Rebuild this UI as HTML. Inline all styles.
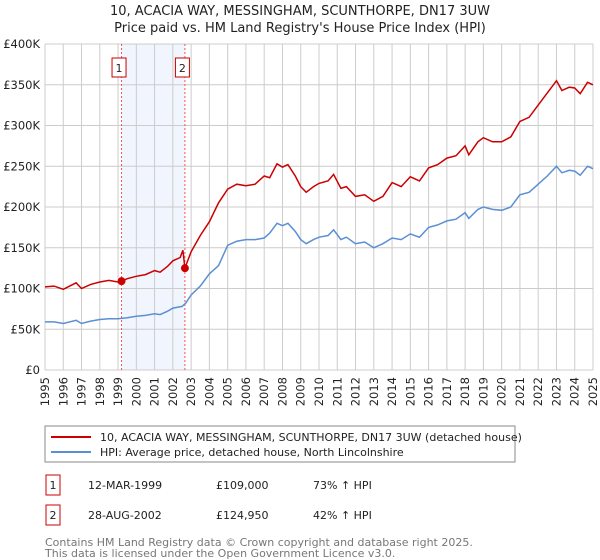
<!DOCTYPE html>
<html><head><meta charset="utf-8"><style>
body{margin:0;background:#fff;font-family:"Liberation Sans","DejaVu Sans",sans-serif;}
svg{display:block}
</style></head><body>
<svg width="600" height="560" xmlns="http://www.w3.org/2000/svg" font-family="DejaVu Sans, Liberation Sans, sans-serif">
<text x="300" y="15" text-anchor="middle" font-size="13" fill="#222">10, ACACIA WAY, MESSINGHAM, SCUNTHORPE, DN17 3UW</text>
<text x="300" y="32" text-anchor="middle" font-size="13" fill="#222">Price paid vs. HM Land Registry's House Price Index (HPI)</text>
<g id="grid"></g>
<g id="marks"></g>
<g id="legend">
<rect x="45" y="426" width="470" height="36" fill="#fff" stroke="#888"/>
<line x1="51" y1="437" x2="91" y2="437" stroke="#cc0000" stroke-width="2"/>
<text x="100" y="441" font-size="11" fill="#222">10, ACACIA WAY, MESSINGHAM, SCUNTHORPE, DN17 3UW (detached house)</text>
<line x1="51" y1="452" x2="91" y2="452" stroke="#5b8fd4" stroke-width="2"/>
<text x="100" y="456" font-size="11" fill="#222">HPI: Average price, detached house, North Lincolnshire</text>
</g>
<g font-size="11" fill="#222">
<rect x="46" y="475" width="14" height="20" fill="#fff" stroke="#cc0000"/>
<text x="53" y="489" text-anchor="middle">1</text>
<text x="88" y="489">12-MAR-1999</text>
<text x="216" y="489">£109,000</text>
<text x="313" y="489">73% ↑ HPI</text>
<rect x="46" y="505" width="14" height="20" fill="#fff" stroke="#cc0000"/>
<text x="53" y="519" text-anchor="middle">2</text>
<text x="88" y="519">28-AUG-2002</text>
<text x="216" y="519">£124,950</text>
<text x="313" y="519">42% ↑ HPI</text>
</g>
<text x="45" y="546" font-size="11" fill="#777">Contains HM Land Registry data © Crown copyright and database right 2025.</text>
<text x="45" y="557" font-size="11" fill="#777">This data is licensed under the Open Government Licence v3.0.</text>
</svg>
<script>
const yTickValues=[0,50,100,150,200,250,300,350,400];
const yTickLabels=["£0","£50K","£100K","£150K","£200K","£250K","£300K","£350K","£400K"];
const xTickYears=[1995,1996,1997,1998,1999,2000,2001,2002,2003,2004,2005,2006,2007,2008,2009,2010,2011,2012,2013,2014,2015,2016,2017,2018,2019,2020,2021,2022,2023,2024,2025];
const hpiYears=[1995,1995.5,1996,1996.7,1997,1997.5,1998,1998.5,1999,1999.5,2000,2000.5,2001,2001.3,2001.7,2002,2002.5,2002.7,2003,2003.5,2004,2004.5,2005,2005.5,2006,2006.5,2007,2007.3,2007.7,2008,2008.3,2008.7,2009,2009.3,2009.7,2010,2010.5,2010.8,2011.2,2011.5,2012,2012.5,2013,2013.5,2014,2014.5,2015,2015.5,2016,2016.5,2017,2017.5,2018,2018.2,2018.7,2019,2019.5,2020,2020.5,2021,2021.5,2022,2022.5,2023,2023.3,2023.7,2024,2024.3,2024.7,2025];
const hpiValues=[59,59,57,61,57,60,62,63,63,64,66,67,69,68,72,76,78,82,92,103,118,128,153,158,160,160,162,168,180,177,180,170,160,155,160,163,165,172,160,163,155,157,150,155,162,160,167,163,175,178,183,185,193,186,197,200,197,196,200,215,218,228,238,250,242,245,244,239,250,247];
const priceYears=[1995,1995.5,1996,1996.7,1997,1997.5,1998,1998.5,1999,1999.19,1999.5,2000,2000.5,2001,2001.3,2001.7,2002,2002.4,2002.55,2002.66,2003,2003.5,2004,2004.5,2005,2005.5,2006,2006.5,2007,2007.3,2007.7,2008,2008.3,2008.7,2009,2009.3,2009.7,2010,2010.5,2010.8,2011.2,2011.5,2012,2012.5,2013,2013.5,2014,2014.5,2015,2015.5,2016,2016.5,2017,2017.5,2018,2018.2,2018.7,2019,2019.5,2020,2020.5,2021,2021.5,2022,2022.5,2023,2023.3,2023.7,2024,2024.3,2024.7,2025];
const priceValues=[102,103,99,107,100,105,108,110,108,109,112,115,117,122,120,127,134,138,147,125,145,165,182,205,222,228,226,228,238,236,253,249,252,238,225,218,225,229,232,240,223,225,213,215,207,213,230,225,237,232,248,252,260,263,275,264,280,285,280,280,286,305,310,325,340,355,343,347,346,339,353,350];
const sales=[{x:1999.19,v:109},{x:2002.66,v:124.95}];
const NS="http://www.w3.org/2000/svg";
const X0=45,X1=593,Y0=370,Y1=44;
function xs(y){return X0+(y-1995)/(2025-1995)*(X1-X0);}
function ys(v){return Y0-v/400*(Y0-Y1);}
function mk(tag,attrs,parent){const e=document.createElementNS(NS,tag);for(const k in attrs)e.setAttribute(k,attrs[k]);parent.appendChild(e);return e;}
const grid=document.getElementById('grid'),marks=document.getElementById('marks');
const shade=mk('rect',{x:xs(sales[0].x),y:Y1,width:xs(sales[1].x)-xs(sales[0].x),height:Y0-Y1,fill:'#f1f5fd'},grid);


yTickValues.forEach((v,i)=>{
 const l=mk('line',{x1:X0,x2:X1,y1:ys(v),y2:ys(v),stroke:'#cccccc'},grid);
 
 
 const t=mk('text',{x:40,y:ys(v)+4,'text-anchor':'end','font-size':'11.5',fill:'#222'},grid);
 t.textContent=yTickLabels[i];
 
 
});
xTickYears.forEach(yr=>{
 const l=mk('line',{x1:xs(yr),x2:xs(yr),y1:Y1,y2:Y0,stroke:'#cccccc'},grid);
 
 
 const t=mk('text',{x:0,y:0,'text-anchor':'end','font-size':'11.5',fill:'#222',transform:`translate(${xs(yr)+4},${Y0+7}) rotate(-90)`},grid);
 t.textContent=yr;
 
 
});
sales.forEach((s,i)=>{
 const l=mk('line',{x1:xs(s.x),x2:xs(s.x),y1:Y1,y2:Y0,stroke:'#ee5555','stroke-dasharray':'2,2'},marks);
 
 
 const r=mk('rect',{x:xs(s.x)-9.5,y:58,width:14,height:19,fill:'#fff',stroke:'#cc0000'},marks);
 
 
 const t=mk('text',{x:xs(s.x)-2.5,y:72,'text-anchor':'middle','font-size':'11',fill:'#222'},marks);
 t.textContent=String(i+1);
 
 
});
function path(xsArr,vs){return xsArr.map((y,i)=>(i?'L':'M')+xs(y).toFixed(1)+','+ys(vs[i]).toFixed(1)).join('');}
const hp=mk('path',{d:path(hpiYears,hpiValues),fill:'none',stroke:'#5b8fd4','stroke-width':1.5},marks);


const pp=mk('path',{d:path(priceYears,priceValues),fill:'none',stroke:'#cc0000','stroke-width':1.5},marks);


sales.forEach(s=>{
 const c=mk('circle',{cx:xs(s.x),cy:ys(s.v),r:4,fill:'#cc0000'},marks);
 
 
});
</script>
</body></html>
